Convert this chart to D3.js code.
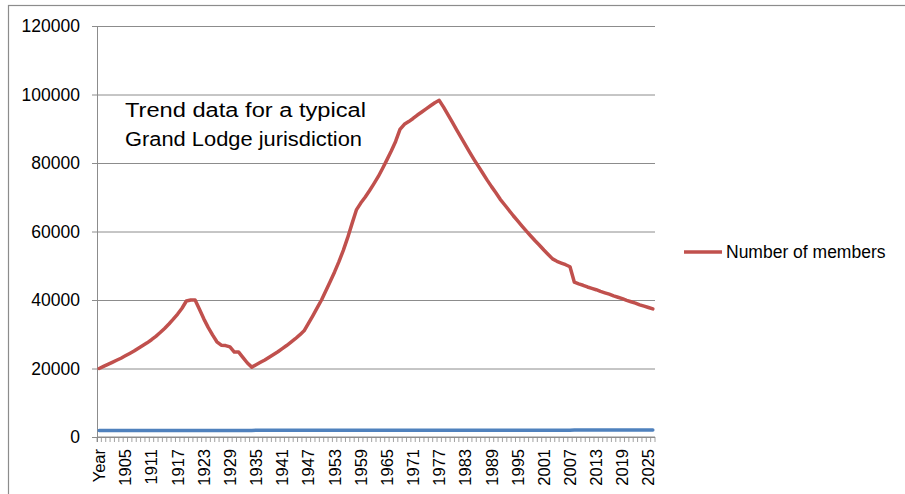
<!DOCTYPE html>
<html>
<head>
<meta charset="utf-8">
<script src="https://cdn.jsdelivr.net/npm/d3@7"></script>
<style>
  body { margin: 0; background: #fff; }
  text { font-family: "Liberation Sans", Arial, sans-serif; fill: #000; }
</style>
</head>
<body>
<svg id="chart" width="905" height="494"></svg>
<script>
// year column (it got plotted as a series too, that's the blue line)
const years = [
  1900,1901,1902,1903,1904,1905,1906,1907,1908,1909,
  1910,1911,1912,1913,1914,1915,1916,1917,1918,1919,
  1920,1921,1922,1923,1924,1925,1926,1927,1928,1929,
  1930,1931,1932,1933,1934,1935,1936,1937,1938,1939,
  1940,1941,1942,1943,1944,1945,1946,1947,1948,1949,
  1950,1951,1952,1953,1954,1955,1956,1957,1958,1959,
  1960,1961,1962,1963,1964,1965,1966,1967,1968,1969,
  1970,1971,1972,1973,1974,1975,1976,1977,1978,1979,
  1980,1981,1982,1983,1984,1985,1986,1987,1988,1989,
  1990,1991,1992,1993,1994,1995,1996,1997,1998,1999,
  2000,2001,2002,2003,2004,2005,2006,2007,2008,2009,
  2010,2011,2012,2013,2014,2015,2016,2017,2018,2019,
  2020,2021,2022,2023,2024,2025,2026]

const categories = ["Year"].concat(years)
const yearSeries = [1900].concat(years)

const members = [
  20000,20600,21200,21800,22400,23000,23700,24400,25100,25900,
  26700,27500,28400,29400,30500,31700,33000,34400,35900,37600,
  39700,40000,40000,37300,34500,32000,29800,27800,26800,26700,
  26300,24800,24800,23200,21600,20400,21100,21800,22500,23300,
  24100,24900,25800,26700,27700,28700,29800,31000,33200,35400,
  37700,40000,42700,45400,48200,51200,54500,58200,62300,66300,
  68300,70000,71900,73900,76000,78400,80900,83500,86300,89800,
  91300,92100,93000,94000,94900,95800,96700,97600,98300,96300,
  94100,91900,89700,87500,85300,83100,81000,79000,77000,75000,
  73100,71300,69400,67800,66200,64600,63100,61600,60100,58700,
  57300,56000,54600,53300,52000,51300,50800,50300,49700,45200,
  44700,44300,43800,43400,43000,42500,42100,41700,41200,40800,
  40400,39900,39500,39100,38600,38200,37800,37400]

const yTicks = [0, 20000, 40000, 60000, 80000, 100000, 120000]
const seriesName = "Number of members"
const noteLines = ["Trend data for a typical", "Grand Lodge jurisdiction"]

const svg = d3.select("#chart")
const plot = {left: 97, right: 655, top: 26, bottom: 437}

// outer chart frame, runs off the picture on the right and bottom
svg.append("rect")
  .attr("x", 8.5).attr("y", 5.5)
  .attr("width", 1000).attr("height", 1000)
  .attr("fill", "none").attr("stroke", "#8c8c8c").attr("stroke-width", 1.2)

let x = d3.scaleBand().domain(d3.range(categories.length)).range([plot.left, plot.right]).padding(0)
let y = d3.scaleLinear().domain([0, 120000]).range([plot.bottom, plot.top])
let bw = x.bandwidth()

// gridlines + y ticks
let yAxis = svg.append("g")
  .attr("transform", "translate(" + plot.left + ",0)")
  .call(d3.axisLeft(y).tickValues(yTicks).tickSize(5).tickFormat(d3.format("d")).tickPadding(12))
yAxis.select(".domain").remove()
yAxis.selectAll(".tick line").attr("stroke", "#8c8c8c").attr("x2", plot.right - plot.left).attr("x1", -5)
yAxis.selectAll(".tick text")
  .style("font-size", "17.5px")
  .style("font-family", "'Liberation Sans', Arial, sans-serif")
  .attr("fill", "#000")

svg.append("line")
  .attr("x1", plot.left + 0.5).attr("x2", plot.left + 0.5)
  .attr("y1", plot.top).attr("y2", plot.bottom + 5)
  .attr("stroke", "#8c8c8c")

// category axis
let xAxis = svg.append("g")
  .attr("transform", "translate(0," + plot.bottom + ")")
xAxis.append("line")
  .attr("x1", plot.left).attr("x2", plot.right)
  .attr("stroke", "#8c8c8c")
xAxis.selectAll(".cat-tick")
  .data(d3.range(categories.length + 1))
  .enter().append("line")
  .attr("x1", i => plot.left + i * bw).attr("x2", i => plot.left + i * bw)
  .attr("y1", 0).attr("y2", 5)
  .attr("stroke", "#8c8c8c").attr("stroke-width", 0.8)

xAxis.selectAll(".cat-label")
  .data(categories.map((c, i) => ({c, i})).filter(d => d.i % 6 === 0))
  .enter().append("text")
  .attr("transform", d => "translate(" + (x(d.i) + bw / 2 + 6) + ",12) rotate(-90)")
  .attr("text-anchor", "end")
  .style("font-size", "16.5px")
  .text(d => d.c)

let line = d3.line()
  .x((d, i) => x(i) + bw / 2)
  .y(d => y(d))

svg.append("path")
  .attr("d", line(yearSeries))
  .attr("fill", "none")
  .attr("stroke", "#4f81bd")
  .attr("stroke-width", 3.5)
  .attr("stroke-linecap", "round")

svg.append("path")
  .attr("d", line(members))
  .attr("fill", "none")
  .attr("stroke", "#c0504d")
  .attr("stroke-width", 3.5)
  .attr("stroke-linejoin", "round")
  .attr("stroke-linecap", "round")

// legend
svg.append("line")
  .attr("x1", 684).attr("x2", 722)
  .attr("y1", 252).attr("y2", 252)
  .attr("stroke", "#c0504d").attr("stroke-width", 3.5)
svg.append("text")
  .attr("x", 726).attr("y", 252)
  .attr("dy", "0.35em")
  .style("font-size", "17.5px")
  .text(seriesName)

// text box on the chart
svg.selectAll(".note")
  .data(noteLines)
  .enter().append("text")
  .attr("x", 125)
  .attr("y", (d, i) => 117 + i * 29)
  .attr("textLength", (d, i) => i === 0 ? 241 : 237)
  .attr("lengthAdjust", "spacingAndGlyphs")
  .style("font-size", "20px")
  .text(d => d)
</script>
</body>
</html>
